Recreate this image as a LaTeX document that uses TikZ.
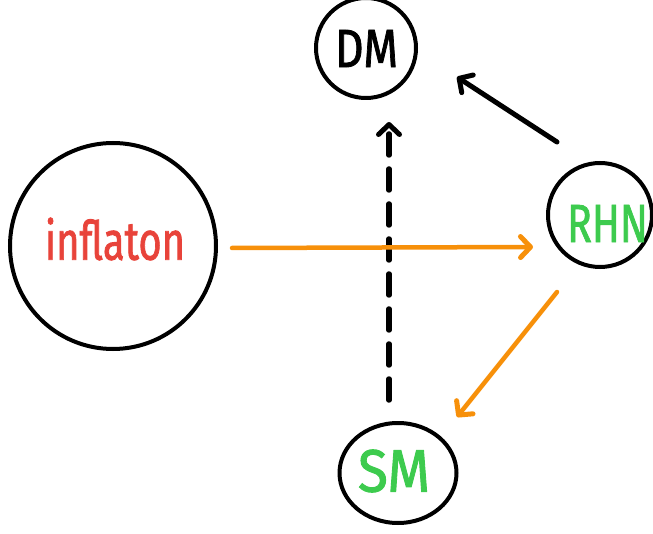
\documentclass[tikz,border=0pt]{standalone}
\usepackage{fontspec}
\setmainfont{Fira Sans}
\newfontfamily\handfont{Fira Sans}[FakeBold=1.6]
\usetikzlibrary{arrows.meta,shapes.geometric}
\definecolor{inkred}{HTML}{E8433A}
\definecolor{inkgreen}{HTML}{3DCB4E}
\definecolor{inkorange}{HTML}{F7900A}
\begin{document}
\begin{tikzpicture}[x=1pt,y=-1pt,
  bubble/.style={draw=black, line width=4pt, circle, inner sep=0pt},
  oval/.style={draw=black, line width=4pt, ellipse, inner sep=0pt},
  word/.style={inner sep=0pt, outer sep=0pt, font=\handfont},
  chev/.tip={Straight Barb[length=10pt,width=21pt,line width=5pt,round]},
  flow/.style={draw=inkorange, line width=4.5pt, line cap=round, -chev},
  decay/.style={draw=black, line width=5pt, line cap=round, -chev},
  relic/.style={draw=black, line width=5.5pt, line cap=round,
    dash pattern=on 21pt off 14pt, -chev}]
\useasboundingbox (0,0) rectangle (653,534);

% bubbles
\node[bubble, minimum size=206pt] (inf) at (113,246) {};
\node[bubble, minimum size=100pt] (dm)  at (366,48)  {};
\node[bubble, minimum size=104pt] (rhn) at (600,215) {};
\node[oval, minimum width=117pt, minimum height=100pt] (sm) at (398,473) {};

% labels
\node[word, text=inkred]   (inftxt) at (115,239)   {\resizebox{140pt}{42pt}{inflaton}};
\node[word, text=black]    (dmtxt)  at (366.5,48.5) {\resizebox{63pt}{37pt}{DM}};
\node[word, text=inkgreen] (rhntxt) at (607.5,223.5) {\resizebox{81pt}{37pt}{RHN}};
\node[word, text=inkgreen] (smtxt)  at (394,471)   {\resizebox{72pt}{42pt}{SM}};

% connector ends
\coordinate (infout) at (232,248);
\coordinate (rhnin)  at (533,247);
\coordinate (rhnup)  at (557,142);
\coordinate (dmin)   at (457,77);
\coordinate (rhndn)  at (557,292);
\coordinate (smin)   at (457,417);
\coordinate (smup)   at (389,400);
\coordinate (dmbot)  at (389,122);

% connectors
\draw[relic] (smup) -- (dmbot);
\draw[flow]  (infout) -- (rhnin);
\draw[decay] (rhnup) -- (dmin);
\draw[flow]  (rhndn) -- (smin);
\end{tikzpicture}
\end{document}
